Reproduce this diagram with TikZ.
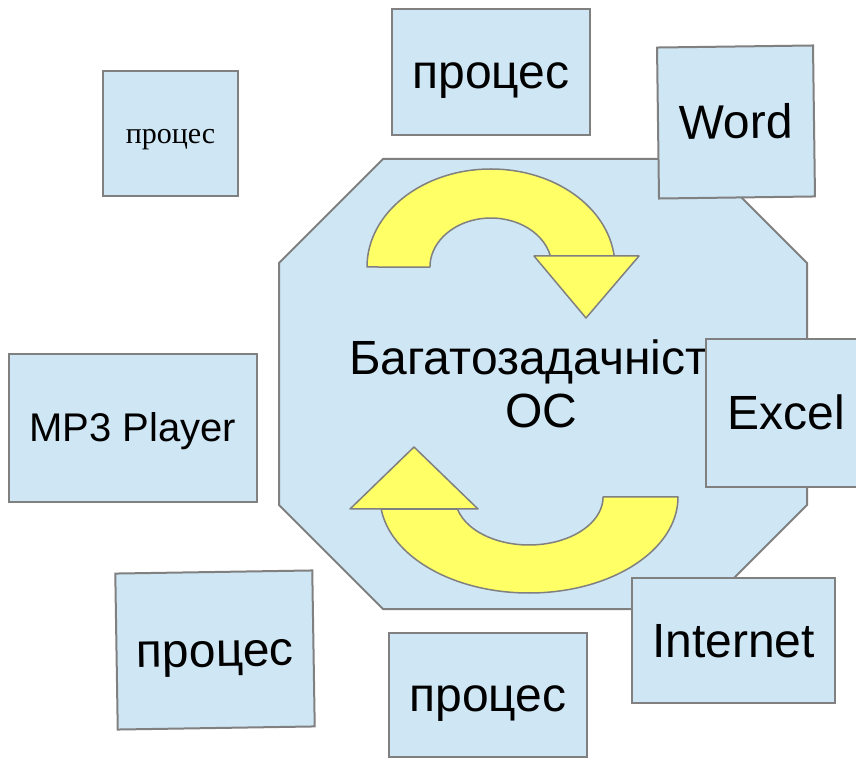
\documentclass[tikz,border=0pt]{standalone}
\usepackage{fontspec}
\setmainfont{Liberation Sans}
\newfontfamily\serifface{Liberation Serif}
\definecolor{boxblue}{RGB}{207,230,244}
\definecolor{arrowyellow}{RGB}{255,255,102}
\definecolor{edgegray}{RGB}{128,128,128}

\begin{document}
\begin{tikzpicture}[x=1pt,y=1pt,
  proc/.style={draw=edgegray,fill=boxblue,line width=2pt,inner sep=0pt,
    font=\fontsize{48}{53}\selectfont,text height=43.4pt,text depth=10.2pt},
  cyclearrow/.style={draw=edgegray,fill=arrowyellow,line width=1.5pt,line join=round}]
\useasboundingbox (0,0) rectangle (856,758);
% the OS octagon
\draw[draw=edgegray,fill=boxblue,line width=2pt] (383,599) -- (703,599) -- (807,495) -- (807,253)
  -- (703,149) -- (383,149) -- (279,253) -- (279,495) -- cycle;
% upper arrow
\draw[cyclearrow] (367,491) arc[start angle=180,end angle=6.4,x radius=124,y radius=98]
  -- (550.4,502) arc[start angle=13,end angle=180,x radius=61,y radius=49] -- cycle;
\draw[cyclearrow] (534,502) -- (639,502) -- (586,440) -- cycle;
% lower arrow
\draw[cyclearrow] (678,261) arc[start angle=0,end angle=-172.8,x radius=149,y radius=96]
  -- (457.4,249) arc[start angle=-165.5,end angle=0,x radius=74,y radius=48] -- cycle;
\draw[cyclearrow] (350,249) -- (478,249) -- (414,311) -- cycle;
\node[align=center,font=\fontsize{48}{53}\selectfont] (os) at (541,374) {Багатозадачність\\ОС};
% processes around
\node[proc,minimum width=135pt,minimum height=125pt,font=\serifface\fontsize{30}{34}\selectfont,
  text height=26.7pt,text depth=6.5pt] (p1) at (170.5,624.5) {процес};
\node[proc,minimum width=198pt,minimum height=126pt] (p2) at (491,686) {процес};
\node[proc,minimum width=156pt,minimum height=151pt,rotate=0.75] (word) at (736,636) {Word};
\node[proc,minimum width=160pt,minimum height=148pt] (excel) at (786,345) {Excel};
\node[proc,minimum width=248pt,minimum height=148pt,font=\fontsize{40}{44}\selectfont,
  text height=36.2pt,text depth=8.5pt] (mp3) at (133,330) {MP3 Player};
\node[proc,minimum width=197pt,minimum height=156pt,rotate=0.9] (p3) at (215,108) {процес};
\node[proc,minimum width=198pt,minimum height=124pt] (p4) at (488,63) {процес};
\node[proc,minimum width=203pt,minimum height=125pt] (net) at (733.5,117.5) {Internet};
\end{tikzpicture}
\end{document}
